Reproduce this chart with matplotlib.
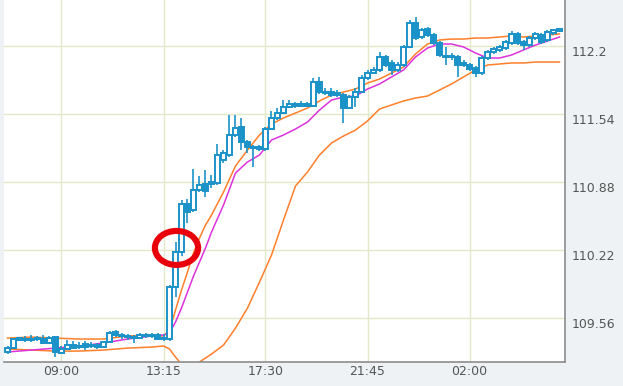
import matplotlib
matplotlib.use('Agg')
import matplotlib.pyplot as plt
import matplotlib.transforms as mtransforms
from matplotlib.patches import Ellipse
import numpy as np

# ---- data (15-minute candles, first candle 06:45) ----
start_minute = 405
interval = 15

opens = [109.230, 109.268, 109.346, 109.356, 109.346, 109.356, 109.356, 109.317, 109.375, 109.220,
         109.259, 109.297, 109.278, 109.307, 109.288, 109.297, 109.278, 109.327, 109.424, 109.395,
         109.385, 109.375, 109.365, 109.385, 109.395, 109.395, 109.365, 109.356, 109.860, 110.200,
         110.666, 110.608, 110.802, 110.860, 110.860, 110.870, 111.093, 111.142, 111.336, 111.413,
         111.268, 111.219, 111.219, 111.200, 111.394, 111.501, 111.549, 111.607, 111.637, 111.617,
         111.637, 111.617, 111.850, 111.743, 111.753, 111.743, 111.724, 111.598, 111.705, 111.753,
         111.889, 111.937, 111.967, 112.093, 112.035, 111.967, 112.015, 112.190, 112.423, 112.287,
         112.365, 112.306, 112.229, 112.102, 112.093, 112.093, 112.035, 112.015, 111.986, 111.937,
         112.083, 112.141, 112.161, 112.180, 112.229, 112.316, 112.238, 112.209, 112.277, 112.306,
         112.258, 112.326, 112.345]
highs = [109.288, 109.365, 109.375, 109.385, 109.395, 109.385, 109.395, 109.385, 109.385, 109.288,
         109.346, 109.336, 109.327, 109.336, 109.327, 109.317, 109.336, 109.433, 109.443, 109.414,
         109.404, 109.395, 109.414, 109.414, 109.414, 109.414, 109.404, 109.880, 110.297, 110.705,
         110.715, 111.006, 110.938, 110.996, 110.947, 111.248, 111.190, 111.530, 111.530, 111.501,
         111.287, 111.239, 111.239, 111.413, 111.569, 111.598, 111.675, 111.675, 111.656, 111.666,
         111.656, 111.889, 111.899, 111.792, 111.792, 111.772, 111.743, 111.724, 111.792, 111.918,
         111.967, 111.996, 112.141, 112.112, 112.064, 112.044, 112.209, 112.452, 112.481, 112.374,
         112.384, 112.326, 112.248, 112.190, 112.132, 112.112, 112.064, 112.035, 112.005, 112.102,
         112.161, 112.190, 112.209, 112.258, 112.345, 112.335, 112.258, 112.297, 112.335, 112.326,
         112.355, 112.365, 112.374]
lows = [109.210, 109.259, 109.336, 109.327, 109.327, 109.336, 109.307, 109.307, 109.181, 109.210,
        109.249, 109.259, 109.259, 109.249, 109.268, 109.259, 109.268, 109.317, 109.375, 109.356,
        109.346, 109.317, 109.356, 109.365, 109.365, 109.346, 109.336, 109.336, 109.763, 110.161,
        110.482, 110.588, 110.782, 110.734, 110.821, 110.850, 111.064, 111.122, 111.316, 111.190,
        111.161, 111.025, 111.180, 111.180, 111.384, 111.481, 111.539, 111.598, 111.598, 111.607,
        111.607, 111.607, 111.734, 111.724, 111.705, 111.705, 111.452, 111.588, 111.607, 111.743,
        111.870, 111.928, 111.947, 111.996, 111.918, 111.947, 111.996, 112.180, 112.258, 112.267,
        112.287, 112.209, 112.093, 112.015, 112.064, 111.899, 111.996, 111.957, 111.899, 111.918,
        112.064, 112.122, 112.141, 112.161, 112.209, 112.209, 112.161, 112.190, 112.258, 112.219,
        112.238, 112.306, 112.335]
closes = [109.268, 109.356, 109.365, 109.346, 109.356, 109.365, 109.317, 109.365, 109.230, 109.259,
          109.297, 109.268, 109.288, 109.278, 109.297, 109.278, 109.327, 109.414, 109.395, 109.385,
          109.375, 109.365, 109.395, 109.395, 109.385, 109.356, 109.356, 109.860, 110.200, 110.666,
          110.588, 110.802, 110.850, 110.792, 110.879, 111.142, 111.161, 111.336, 111.404, 111.268,
          111.219, 111.210, 111.200, 111.394, 111.501, 111.549, 111.607, 111.637, 111.617, 111.637,
          111.617, 111.850, 111.753, 111.753, 111.724, 111.724, 111.598, 111.705, 111.753, 111.889,
          111.937, 111.967, 112.093, 112.015, 111.967, 112.015, 112.190, 112.423, 112.277, 112.355,
          112.306, 112.229, 112.112, 112.093, 112.093, 112.015, 112.015, 111.976, 111.937, 112.083,
          112.141, 112.170, 112.190, 112.238, 112.316, 112.229, 112.209, 112.277, 112.316, 112.238,
          112.335, 112.355, 112.365]

# indicator lines, read at these candle indices
line_index = [0, 4, 8, 12, 16, 20, 24, 26, 27, 28, 29, 30, 31, 32, 33, 34,
              36, 38, 40, 42, 44, 46, 48, 50, 52, 54, 56, 58, 60, 62, 64, 66,
              68, 70, 72, 74, 76, 78, 80, 82, 84, 86, 88, 90, 92]
upper_band = [109.365, 109.375, 109.365, 109.356, 109.356, 109.385, 109.395, 109.385, 109.443, 109.637,
              109.831, 110.006, 110.190, 110.336, 110.462, 110.559, 110.782, 111.035, 111.190, 111.336,
              111.443, 111.501, 111.549, 111.598, 111.666, 111.724, 111.753, 111.782, 111.840, 111.879,
              111.937, 111.996, 112.122, 112.219, 112.258, 112.267, 112.267, 112.277, 112.277, 112.287,
              112.297, 112.287, 112.297, 112.306, 112.316]
middle_line = [109.230, 109.249, 109.268, 109.288, 109.317, 109.356, 109.385, 109.395, 109.414, 109.521,
               109.657, 109.812, 109.967, 110.103, 110.239, 110.394, 110.656, 110.967, 111.074, 111.142,
               111.287, 111.336, 111.394, 111.462, 111.578, 111.675, 111.705, 111.714, 111.782, 111.831,
               111.899, 111.967, 112.093, 112.180, 112.219, 112.219, 112.190, 112.132, 112.083, 112.083,
               112.112, 112.161, 112.209, 112.248, 112.287]
lower_band = [109.259, 109.249, 109.239, 109.239, 109.249, 109.268, 109.278, 109.288, 109.259, 109.181,
              109.113, 109.074, 109.074, 109.133, 109.171, 109.210, 109.297, 109.462, 109.657, 109.909,
              110.171, 110.511, 110.841, 110.977, 111.142, 111.258, 111.326, 111.384, 111.472, 111.588,
              111.627, 111.666, 111.695, 111.714, 111.772, 111.831, 111.899, 111.967, 112.015, 112.025,
              112.035, 112.035, 112.044, 112.044, 112.044]

xtick_minutes = [540, 795, 1050, 1305, 1560]
xtick_labels = ['09:00', '13:15', '17:30', '21:45', '02:00']
ytick_values = [109.56, 110.22, 110.88, 111.54, 112.2]
ytick_labels = ['109.56', '110.22', '110.88', '111.54', '112.2']

# highlighted candle (red circle)
mark_minute = 827.5
mark_price = 110.24

# ---- drawing ----
W, H = 623, 386
fig = plt.figure(figsize=(W / 100, H / 100), dpi=100, facecolor='#eef2f4')
ax = fig.add_axes([4 / W, 24 / H, 561 / W, 362 / H])
ax.set_facecolor('white')

o = np.array(opens); h = np.array(highs); l = np.array(lows); c = np.array(closes)
t = start_minute + interval * np.arange(len(o))
tl = start_minute + interval * np.array(line_index)

blue = '#1b92c8'
orange = '#ff7f2a'
magenta = '#dc32dc'

ax.plot(tl, lower_band, color=orange, lw=1.1, zorder=2)
ax.plot(tl, upper_band, color=orange, lw=1.1, zorder=2)
ax.plot(tl, middle_line, color=magenta, lw=1.1, zorder=2)

ax.vlines(t, l, h, color=blue, lw=1.2, zorder=3)
bull = c >= o
ax.bar(t, np.maximum(np.abs(c - o), 0.005), bottom=np.minimum(o, c), width=10.5,
       color=np.where(bull, 'white', blue), edgecolor=blue, linewidth=1.4, zorder=4)

ax.add_patch(Ellipse((mark_minute, mark_price), 108, 0.33, fill=False,
                     edgecolor='#e8000b', linewidth=4.4, zorder=6))

ax.set_xlim(396.25, 1798.75)
ax.set_ylim(109.133, 112.646)
ax.set_xticks(xtick_minutes, xtick_labels)
ax.set_yticks(ytick_values, ytick_labels)
ax.yaxis.tick_right()
ax.grid(True, color='#e2e8c8', lw=1.0, zorder=0)
ax.set_axisbelow(True)
ax.tick_params(length=0, labelsize=9, labelcolor='#555555')
ax.tick_params(axis='x', pad=2)
ax.tick_params(axis='y', pad=5)
off = mtransforms.ScaledTranslation(0, -5 / 100, fig.dpi_scale_trans)
for lab in ax.get_yticklabels():
    lab.set_transform(lab.get_transform() + off)

for s in ['top', 'left']:
    ax.spines[s].set_visible(False)
for s in ['right', 'bottom']:
    ax.spines[s].set_color('#8c8c8c')
    ax.spines[s].set_linewidth(1.2)

fig.savefig('out.png', dpi=100, facecolor=fig.get_facecolor())
